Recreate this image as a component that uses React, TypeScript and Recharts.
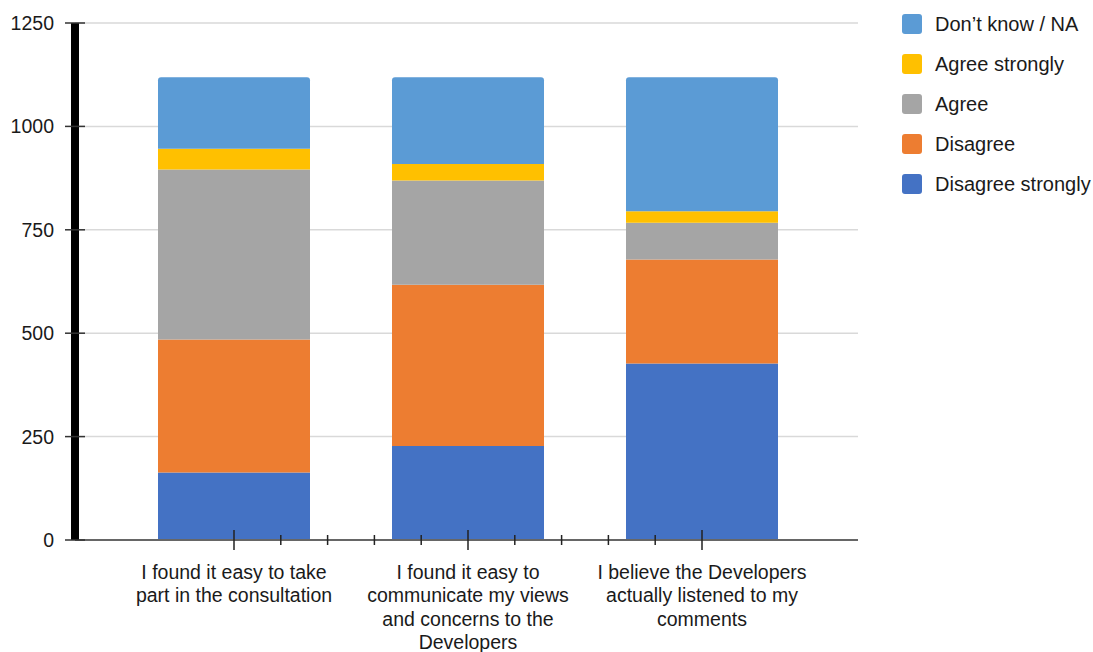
import React from "react";
import { BarChart, Bar, XAxis, YAxis, CartesianGrid } from "recharts";

const FONT = '"Liberation Sans", Arial, sans-serif';

const categories = [
  ["I found it easy to take", "part in the consultation"],
  ["I found it easy to", "communicate my views", "and concerns to the", "Developers"],
  ["I believe the Developers", "actually listened to my", "comments"],
];

const disagreeStrongly = [163, 227, 427];
const disagree = [322, 390, 251];
const agree = [411, 252, 89];
const agreeStrongly = [50, 40, 28];
const dontKnow = [173, 210, 324];

const yTicks = [0, 250, 500, 750, 1000, 1250];
// x axis ticks in fifths of a category step (categories sit on 0, 5, 10)
const xTicks = [0, 1, 2, 3, 4, 5, 6, 7, 8, 9, 10];

// stacking order, bottom to top
const series = [
  { key: "ds", name: "Disagree strongly", color: "#4472c4", values: disagreeStrongly },
  { key: "d", name: "Disagree", color: "#ed7d31", values: disagree },
  { key: "a", name: "Agree", color: "#a5a5a5", values: agree },
  { key: "as", name: "Agree strongly", color: "#ffc000", values: agreeStrongly },
  { key: "dk", name: "Don\u2019t know / NA", color: "#5b9bd5", values: dontKnow },
];

const data = categories.map((lines, i) => {
  const row: Record<string, number> = { x: i * 5 };
  series.forEach(s => { row[s.key] = s.values[i]; });
  return row;
});

const XTick = (props: any) => {
  const { x, y, payload } = props;
  const v = payload.value as number;
  const major = v % 5 === 0;
  const len = major ? 10 : 5;
  const lines = major ? categories[v / 5] : [];
  return (
    <g>
      <line x1={x} x2={x} y1={y - len} y2={y + len} stroke="#222" strokeWidth={1.5} />
      {major && (
        <text x={x} y={y + 39} textAnchor="middle" fontSize={19.5} fill="#1a1a1a" fontFamily={FONT}>
          {lines.map((l, j) => (
            <tspan key={j} x={x} dy={j === 0 ? 0 : 23.3}>{l}</tspan>
          ))}
        </text>
      )}
    </g>
  );
};

const YTick = (props: any) => {
  const { x, y, payload } = props;
  return (
    <g>
      <line x1={x - 10} x2={x + 10} y1={y} y2={y} stroke="#333" strokeWidth={1.5} />
      <text x={x - 21} y={y + 7} textAnchor="end" fontSize={19.5} fill="#1a1a1a" fontFamily={FONT}>
        {payload.value}
      </text>
    </g>
  );
};

const LegendBox = () => (
  <div style={{ position: "absolute", left: 902, top: 4, fontFamily: FONT, fontSize: 20, color: "#1a1a1a" }}>
    {[...series].reverse().map(s => (
      <div key={s.key} style={{ display: "flex", alignItems: "center", height: 40, whiteSpace: "nowrap" }}>
        <span style={{ width: 20, height: 20, borderRadius: 3, background: s.color, marginRight: 13 }} />
        <span>{s.name}</span>
      </div>
    ))}
  </div>
);

export default function App() {
  return (
    <div style={{ position: "absolute", left: 0, top: 0, width: 1093, height: 652 }}>
      <BarChart width={1093} height={652} data={data} margin={{ top: 23, right: 235, bottom: 0, left: 0 }}>
        <CartesianGrid vertical={false} stroke="#d9d9d9" strokeWidth={1.5} />
        {series.map((s, i) => (
          <Bar key={s.key} dataKey={s.key} name={s.name} stackId="a" fill={s.color} barSize={152}
            radius={i === series.length - 1 ? [3, 3, 0, 0] : 0} isAnimationActive={false} />
        ))}
        <XAxis dataKey="x" type="number" domain={[-2.5, 12.5]} ticks={xTicks} interval={0}
          padding={{ left: 42, right: 39 }} height={112} allowDataOverflow
          axisLine={{ stroke: "#666", strokeWidth: 2 }} tickLine={false} tickSize={0} tickMargin={0}
          tick={<XTick />} />
        <YAxis domain={[0, 1250]} ticks={yTicks} interval={0} width={75}
          axisLine={{ stroke: "#000", strokeWidth: 8 }} tickLine={false} tickSize={0} tickMargin={0}
          tick={<YTick />} />
      </BarChart>
      <LegendBox />
    </div>
  );
}
